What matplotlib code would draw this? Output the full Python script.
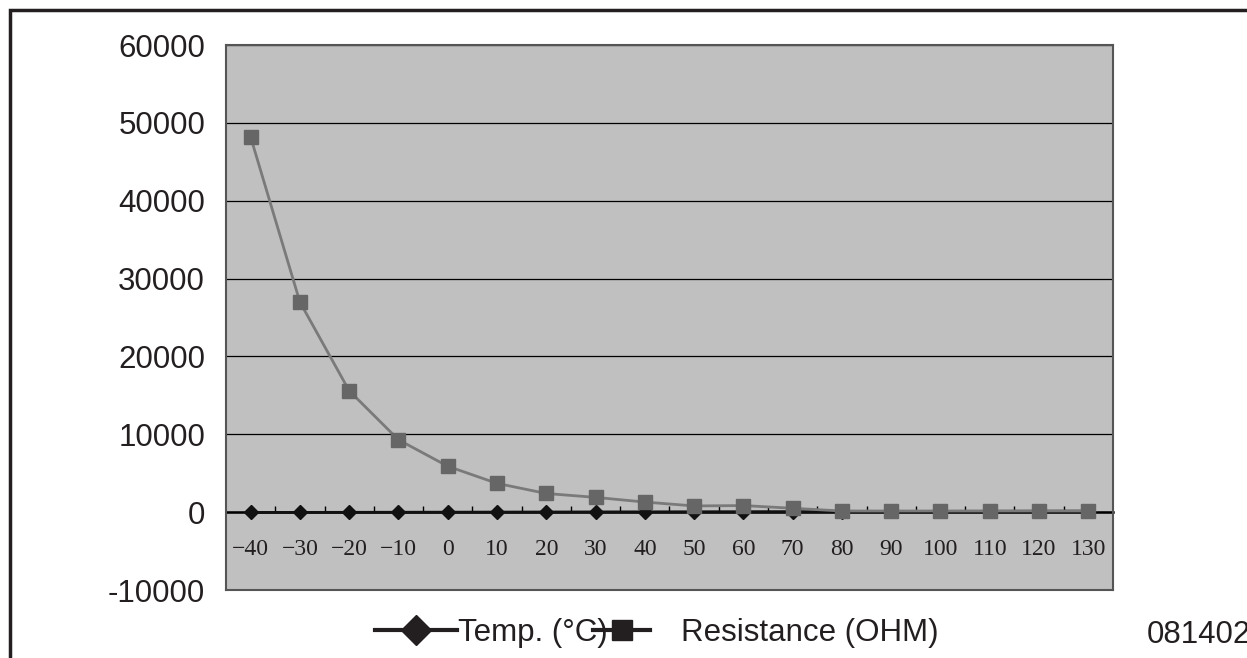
import matplotlib.pyplot as plt
import matplotlib.patches as mpatches
from matplotlib.lines import Line2D

# data
temps = [-40, -30, -20, -10, 0, 10, 20, 30, 40, 50, 60, 70, 80, 90, 100, 110, 120, 130]
resistance = [48200, 27000, 15600, 9300, 5900, 3700, 2400, 1900, 1300,
              800, 850, 500, 150, 150, 150, 150, 150, 150]
y_ticks = [-10000, 0, 10000, 20000, 30000, 40000, 50000, 60000]

fig = plt.figure(figsize=(12.47, 6.58), dpi=100)
ax = fig.add_axes([0.1812, 0.1033, 0.7113, 0.8283])
ax.set_facecolor('#c0c0c0')

x = list(range(len(temps)))

# series
ax.plot(x, temps, color='#111111', lw=2, marker='D', ms=7.5,
        mfc='#111111', mec='#111111', zorder=3)
ax.plot(x, resistance, color='#7a7a7a', lw=2, marker='s', ms=10,
        mfc='#666666', mec='#666666', zorder=4)

ax.set_xlim(-0.5, len(temps) - 0.5)
ax.set_ylim(-10000, 60000)

# horizontal gridlines
ax.set_yticks(y_ticks)
ax.set_yticklabels([str(v) for v in y_ticks], family='Liberation Sans',
                   fontsize=22.5, color='#231f20')
ax.grid(axis='y', color='black', lw=0.9, zorder=1)
ax.set_axisbelow(True)
ax.tick_params(axis='y', length=0, pad=15)

# x axis at zero
ax.spines['bottom'].set_position(('data', 0))
ax.spines['bottom'].set_color('black')
ax.spines['bottom'].set_linewidth(1.8)
ax.spines['bottom'].set_zorder(2)
for s in ['left', 'top', 'right']:
    ax.spines[s].set_color('#555555')
    ax.spines[s].set_linewidth(1.5)
ax.plot([0, 1], [0, 0], transform=ax.transAxes, color='#555555', lw=1.5,
        clip_on=False)

ax.set_xticks(x)
ax.set_xticklabels([str(t).replace('-', '\u2212') for t in temps],
                   family='Liberation Serif', fontsize=17, color='#231f20')
ax.set_xticks([i + 0.5 for i in x[:-1]], minor=True)
ax.tick_params(axis='x', which='major', length=0, pad=19)
ax.tick_params(axis='x', which='minor', direction='in', length=4.5,
               width=1, color='black')

# legend, two pieces placed like the original
h1 = Line2D([], [], color='#231f20', lw=3, marker='D', ms=15,
            mfc='#231f20', mec='#231f20')
h2 = Line2D([], [], color='#231f20', lw=3, marker='s', ms=15,
            mfc='#231f20', mec='#231f20')
leg_font = {'family': 'Liberation Sans', 'size': 22.5}
leg1 = fig.legend([h1], ['Temp. (°C)'], loc='center left',
                  bbox_to_anchor=(375 / 1247, 0.038), frameon=False,
                  prop=leg_font, borderpad=0, borderaxespad=0,
                  handlelength=2.62, handletextpad=0.05)
leg2 = fig.legend([h2], ['Resistance (OHM)'], loc='center left',
                  bbox_to_anchor=(593 / 1247, 0.038), frameon=False,
                  prop=leg_font, borderpad=0, borderaxespad=0,
                  handlelength=1.83, handletextpad=1.0)
for leg in (leg1, leg2):
    for t in leg.get_texts():
        t.set_color('#231f20')

fig.text(1147 / 1247, 0.035, '081402', family='Liberation Sans',
         fontsize=22.5, va='center', ha='left', color='#231f20')

# outer frame
frame = mpatches.Rectangle((10 / 1247, -0.1), 1.2, 1.1 - 10 / 658,
                           transform=fig.transFigure, fill=False,
                           edgecolor='#231f20', lw=2.5)
fig.patches.append(frame)

fig.savefig('out.png', dpi=100)
